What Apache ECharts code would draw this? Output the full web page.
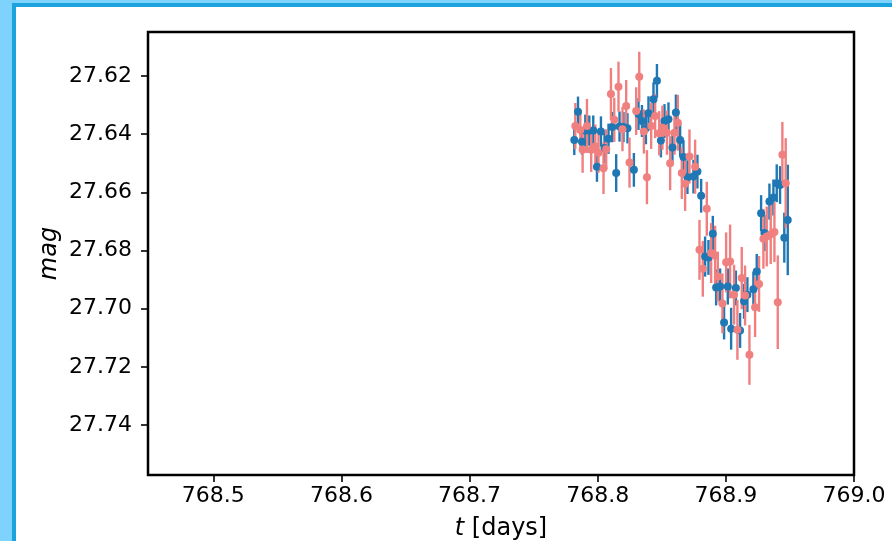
<!DOCTYPE html>
<html>
<head>
<meta charset="utf-8">
<script src="https://cdn.jsdelivr.net/npm/echarts@6.0.0/dist/echarts.min.js"></script>
<style>
  html, body { margin: 0; padding: 0; background: #fff; overflow: hidden; }
  #edgeLeft { position: absolute; left: 0; top: 0; width: 12px; height: 541px; background: #7dd3fc; }
  #edgeTop { position: absolute; left: 0; top: 0; width: 892px; height: 3px; background: #7dd3fc; }
  #lineLeft { position: absolute; left: 12px; top: 3px; width: 4px; height: 538px; background: #1aa3dc; }
  #lineTop { position: absolute; left: 12px; top: 3px; width: 880px; height: 4px; background: #1aa3dc; }
  #chart { position: absolute; left: 0; top: 0; width: 892px; height: 541px; }
</style>
</head>
<body>
<div id="edgeLeft"></div>
<div id="edgeTop"></div>
<div id="lineLeft"></div>
<div id="lineTop"></div>
<div id="chart"></div>
<script>
// light curve, two bands: times [days], magnitudes and 1-sigma errors
const blueT = [768.7817, 768.7846, 768.7877, 768.7903, 768.7934, 768.7965, 768.7994, 768.8025, 768.8053, 768.8084,
  768.8113, 768.8144, 768.8170, 768.8201, 768.8232, 768.8282, 768.8318, 768.8345, 768.8376, 768.8396,
  768.8435, 768.8462, 768.8493, 768.8521, 768.8552, 768.8583, 768.8610, 768.8643, 768.8669, 768.8700,
  768.8747, 768.8778, 768.8807, 768.8838, 768.8864, 768.8898, 768.8924, 768.8955, 768.8986, 768.9015,
  768.9041, 768.9078, 768.9111, 768.9142, 768.9168, 768.9215, 768.9241, 768.9275, 768.9301, 768.9340,
  768.9371, 768.9397, 768.9423, 768.9456, 768.9483];
const blueMag = [27.6420, 27.6323, 27.6426, 27.6388, 27.6388, 27.6388, 27.6512, 27.6391, 27.6448, 27.6416,
  27.6376, 27.6534, 27.6374, 27.6376, 27.6380, 27.6523, 27.6331, 27.6355, 27.6380, 27.6328,
  27.6280, 27.6217, 27.6422, 27.6355, 27.6349, 27.6446, 27.6326, 27.6420, 27.6479, 27.6548,
  27.6546, 27.6529, 27.6612, 27.6821, 27.6824, 27.6743, 27.6927, 27.6924, 27.7048, 27.6924,
  27.7069, 27.6929, 27.7075, 27.6975, 27.6952, 27.6933, 27.6872, 27.6672, 27.6740, 27.6632,
  27.6618, 27.6569, 27.6575, 27.6756, 27.6695];
const blueErr = [0.0052, 0.0052, 0.0045, 0.0055, 0.0052, 0.0052, 0.0052, 0.0052, 0.0052, 0.0052,
  0.0052, 0.0065, 0.0052, 0.0052, 0.0052, 0.0058, 0.0055, 0.0055, 0.0055, 0.0058,
  0.0058, 0.0058, 0.0058, 0.0058, 0.0058, 0.0058, 0.0062, 0.0058, 0.0058, 0.0058,
  0.0058, 0.0058, 0.0058, 0.0069, 0.0060, 0.0062, 0.0062, 0.0062, 0.0058, 0.0062,
  0.0072, 0.0060, 0.0060, 0.0060, 0.0060, 0.0060, 0.0060, 0.0062, 0.0062, 0.0062,
  0.0062, 0.0065, 0.0065, 0.0086, 0.0190];

const pinkT = [768.7825, 768.7864, 768.7882, 768.7916, 768.7949, 768.7981, 768.8006, 768.8045, 768.8066, 768.8103,
  768.8129, 768.8162, 768.8193, 768.8222, 768.8248, 768.8300, 768.8324, 768.8360, 768.8384, 768.8417,
  768.8448, 768.8480, 768.8505, 768.8540, 768.8565, 768.8599, 768.8625, 768.8656, 768.8682, 768.8716,
  768.8760, 768.8794, 768.8820, 768.8851, 768.8885, 768.8916, 768.8937, 768.8973, 768.9002, 768.9033,
  768.9064, 768.9090, 768.9124, 768.9150, 768.9184, 768.9228, 768.9259, 768.9293, 768.9319, 768.9350,
  768.9379, 768.9405, 768.9441, 768.9467];
const pinkMag = [27.6372, 27.6386, 27.6454, 27.6372, 27.6454, 27.6443, 27.6464, 27.6517, 27.6452, 27.6262,
  27.6351, 27.6237, 27.6383, 27.6303, 27.6498, 27.6321, 27.6203, 27.6391, 27.6548, 27.6372,
  27.6338, 27.6397, 27.6378, 27.6395, 27.6500, 27.6395, 27.6361, 27.6534, 27.6571, 27.6477,
  27.6512, 27.6798, 27.6863, 27.6657, 27.6809, 27.6818, 27.6890, 27.6982, 27.6841, 27.6838,
  27.6952, 27.7073, 27.6895, 27.6955, 27.7159, 27.6995, 27.6915, 27.6760, 27.6752, 27.6744,
  27.6737, 27.6978, 27.6471, 27.6569];
const pinkErr = [0.0079, 0.0069, 0.0079, 0.0093, 0.0076, 0.0076, 0.0069, 0.0089, 0.0069, 0.0089,
  0.0076, 0.0086, 0.0076, 0.0089, 0.0086, 0.0082, 0.0086, 0.0076, 0.0093, 0.0079,
  0.0076, 0.0076, 0.0076, 0.0076, 0.0093, 0.0076, 0.0096, 0.0089, 0.0093, 0.0093,
  0.0093, 0.0103, 0.0096, 0.0093, 0.0103, 0.0103, 0.0086, 0.0103, 0.0103, 0.0127,
  0.0103, 0.0103, 0.0107, 0.0103, 0.0103, 0.0103, 0.0096, 0.0103, 0.0103, 0.0103,
  0.0103, 0.0161, 0.0113, 0.0155];

const xTicks = [768.5, 768.6, 768.7, 768.8, 768.9, 769.0];
const yTicks = [27.62, 27.64, 27.66, 27.68, 27.70, 27.72, 27.74];

const BLUE = '#1f77b4';
const PINK = '#f08080';
const FONT = 'DejaVu Sans';

function errorSeries(ts, mags, errs, color) {
  return {
    type: 'custom',
    clip: true,
    data: ts.map((t, i) => [t, mags[i] - errs[i], mags[i] + errs[i]]),
    encode: { x: 0, y: [1, 2] },
    renderItem: (params, api) => {
      const a = api.coord([api.value(0), api.value(1)]);
      const b = api.coord([api.value(0), api.value(2)]);
      return {
        type: 'line',
        shape: { x1: a[0], y1: a[1], x2: b[0], y2: b[1] },
        style: { stroke: color, lineWidth: 2.4 },
      };
    },
    z: 2,
  };
}

function pointSeries(ts, mags, color, z) {
  return {
    type: 'scatter',
    data: ts.map((t, i) => [t, mags[i]]),
    symbol: 'circle',
    symbolSize: 8,
    itemStyle: { color, opacity: 1 },
    emphasis: { disabled: true },
    z,
  };
}

const chart = echarts.init(document.getElementById('chart'), null, { renderer: 'canvas' });
chart.setOption({
  backgroundColor: 'transparent',
  animation: false,
  grid: {
    left: 148, right: 38, top: 32, bottom: 66,
    outerBoundsMode: 'none',
    containLabel: false,
    show: true, borderColor: '#000', borderWidth: 2.5, backgroundColor: '#fff',
  },
  xAxis: {
    type: 'value',
    min: 768.449,
    max: 769.0,
    splitLine: { show: false },
    axisLine: { show: false },
    axisTick: { show: true, customValues: xTicks, length: 7, lineStyle: { color: '#000', width: 1.6 } },
    axisLabel: {
      customValues: xTicks,
      formatter: (v) => v.toFixed(1),
      color: '#000', fontFamily: FONT, fontSize: 22, margin: 10,
    },
    name: '{i|t} [days]',
    nameLocation: 'middle',
    nameGap: 42,
    nameMoveOverlap: false,
    nameTextStyle: {
      color: '#000', fontFamily: FONT, fontSize: 24,
      rich: { i: { fontStyle: 'italic', fontFamily: FONT, fontSize: 24, color: '#000' } },
    },
  },
  yAxis: {
    type: 'value',
    inverse: true,
    min: 27.6049,
    max: 27.7572,
    splitLine: { show: false },
    axisLine: { show: false },
    axisTick: { show: true, customValues: yTicks, length: 7, lineStyle: { color: '#000', width: 1.6 } },
    axisLabel: {
      customValues: yTicks,
      formatter: (v) => v.toFixed(2),
      color: '#000', fontFamily: FONT, fontSize: 22, margin: 16,
    },
    name: 'mag',
    nameLocation: 'middle',
    nameRotate: 90,
    nameGap: 86,
    nameMoveOverlap: false,
    nameTextStyle: { color: '#000', fontFamily: FONT, fontSize: 24, fontStyle: 'italic' },
  },
  series: [
    errorSeries(blueT, blueMag, blueErr, BLUE),
    pointSeries(blueT, blueMag, BLUE, 3),
    errorSeries(pinkT, pinkMag, pinkErr, PINK),
    pointSeries(pinkT, pinkMag, PINK, 5),
  ],
});
</script>
</body>
</html>
